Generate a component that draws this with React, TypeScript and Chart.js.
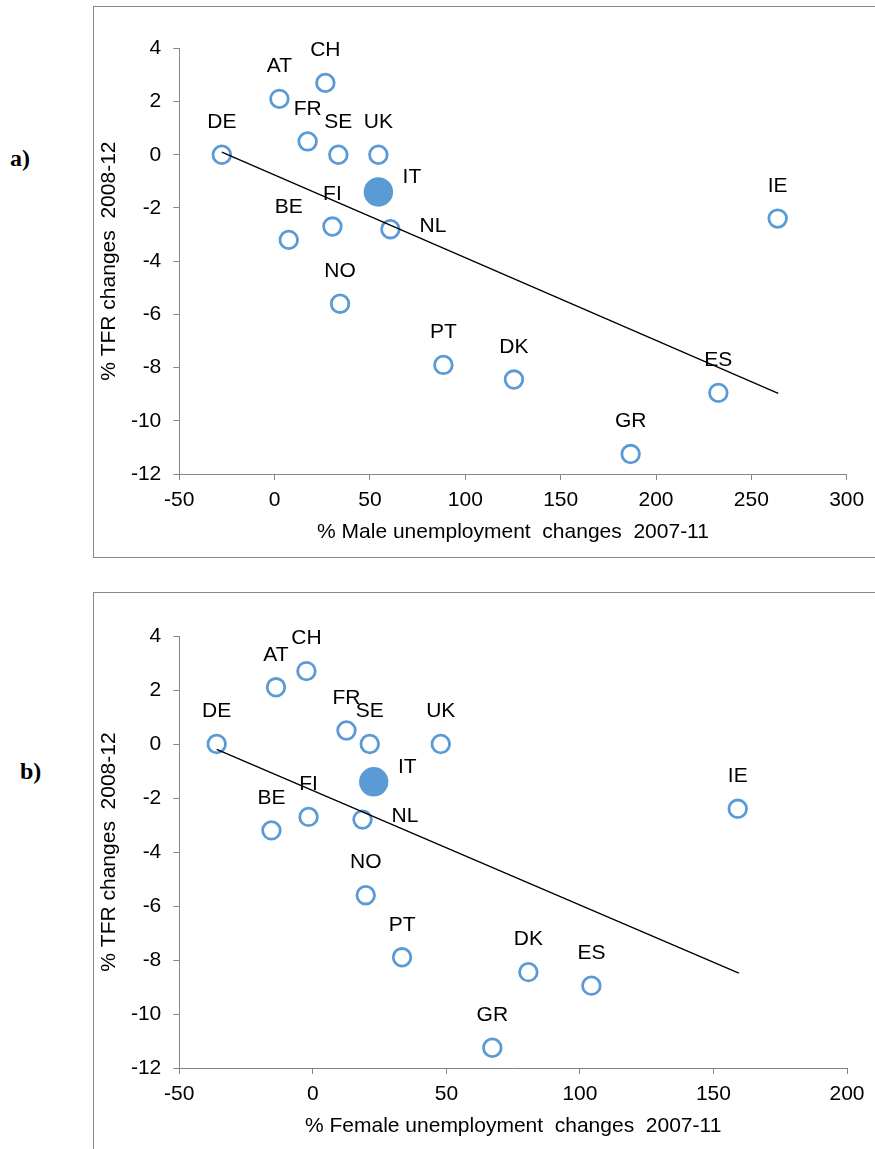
import React, { useEffect, useRef } from "react";
import { Chart, registerables } from "chart.js";

Chart.register(...registerables);

// ---- data ----
const countries = ["DE", "AT", "CH", "FR", "SE", "UK", "IT", "FI", "NL", "BE", "NO", "PT", "DK", "ES", "GR", "IE"];
const tfrChange = [0, 2.1, 2.7, 0.5, 0, 0, -1.4, -2.7, -2.8, -3.2, -5.6, -7.9, -8.45, -8.95, -11.25, -2.4];
const maleUnempChange = [-27.7, 2.5, 26.6, 17.3, 33.4, 54.4, 54.4, 30.3, 60.7, 7.4, 34.3, 88.5, 125.5, 232.7, 186.7, 263.8];
const femaleUnempChange = [-36.0, -13.8, -2.4, 12.6, 21.3, 47.9, 22.8, -1.6, 18.6, -15.5, 19.8, 33.4, 80.7, 104.3, 67.2, 159.1];
const maleTrendX = [-27.7, 264.1];
const maleTrendY = [0.1, -8.97];
const femaleTrendX = [-36.0, 159.5];
const femaleTrendY = [-0.2, -8.49];
const yAxisMin = -12;
const yAxisMax = 4;
const yAxisStep = 2;
const maleXMin = -50;
const maleXMax = 300;
const femaleXMin = -50;
const femaleXMax = 200;
const xAxisStep = 50;
const highlighted = "IT";

// ---- styles ----
const BLUE = "#5B9BD5";
const AXIS = "#868686";
const FONT_FAMILY = '"Liberation Sans", Arial, sans-serif';
const labelOffsets: Record<string, [number, number]> = {
  IT: [33.5, -14.5],
  NL: [42.5, -3.5],
};
const defaultOffset: [number, number] = [0, -32.5];

const labelPlugin = {
  id: "countryLabels",
  afterDatasetDraw(chart: any, args: any) {
    if (args.meta.type !== "scatter" || chart.data.datasets[args.index].label !== "points") return;
    const ctx = chart.ctx;
    ctx.save();
    ctx.font = `21px ${FONT_FAMILY}`;
    ctx.fillStyle = "#000";
    ctx.textAlign = "center";
    ctx.textBaseline = "middle";
    args.meta.data.forEach((el: any, i: number) => {
      const name = countries[i];
      const [dx, dy] = labelOffsets[name] ?? defaultOffset;
      ctx.fillText(name, el.x + dx, el.y + dy);
    });
    ctx.restore();
  },
};

function makeConfig(
  xs: number[],
  trendX: number[],
  trendY: number[],
  xMin: number,
  xMax: number,
  xTitle: string,
  padTop: number,
  padRight: number,
  yWidth: number,
  xHeight: number
): any {
  const font = { family: FONT_FAMILY, size: 21 };
  return {
    type: "scatter",
    data: {
      datasets: [
        {
          label: "points",
          order: 2,
          data: countries.map((_, i) => ({ x: xs[i], y: tfrChange[i] })),
          showLine: false,
          pointRadius: (c: any) => (countries[c.dataIndex] === highlighted ? 14.7 : 8.8),
          pointHoverRadius: (c: any) => (countries[c.dataIndex] === highlighted ? 14.7 : 8.8),
          pointBackgroundColor: (c: any) => (countries[c.dataIndex] === highlighted ? BLUE : "#ffffff"),
          pointBorderColor: BLUE,
          pointBorderWidth: (c: any) => (countries[c.dataIndex] === highlighted ? 0 : 2.8),
        },
        {
          label: "trend",
          order: 1,
          data: trendX.map((x, i) => ({ x, y: trendY[i] })),
          showLine: true,
          borderColor: "#000",
          borderWidth: 1.4,
          pointRadius: 0,
          pointHoverRadius: 0,
          fill: false,
        },
      ],
    },
    options: {
      animation: false,
      responsive: true,
      maintainAspectRatio: false,
      events: [],
      layout: { padding: { top: padTop, right: padRight, left: 0, bottom: 0 } },
      plugins: { legend: { display: false }, tooltip: { enabled: false } },
      scales: {
        x: {
          type: "linear",
          min: xMin,
          max: xMax,
          ticks: { stepSize: xAxisStep, font, color: "#000", padding: 8, maxRotation: 0 },
          grid: { drawOnChartArea: false, drawTicks: true, tickLength: 6, color: AXIS },
          border: { color: AXIS, width: 1 },
          title: { display: true, text: xTitle, font, color: "#000", padding: { top: 0, bottom: 12 } },
          afterFit: (s: any) => {
            s.height = xHeight;
          },
        },
        y: {
          type: "linear",
          min: yAxisMin,
          max: yAxisMax,
          ticks: { stepSize: yAxisStep, font, color: "#000", padding: 12 },
          grid: { drawOnChartArea: false, drawTicks: true, tickLength: 6, color: AXIS },
          border: { color: AXIS, width: 1 },
          title: { display: true, text: "% TFR changes  2008-12", font, color: "#000", padding: { top: 3, bottom: 0 } },
          afterFit: (s: any) => {
            s.width = yWidth;
          },
        },
      },
    },
    plugins: [labelPlugin],
  };
}

export default function App() {
  const refA = useRef<HTMLCanvasElement | null>(null);
  const refB = useRef<HTMLCanvasElement | null>(null);

  useEffect(() => {
    const a = new Chart(
      refA.current as HTMLCanvasElement,
      makeConfig(maleUnempChange, maleTrendX, maleTrendY, maleXMin, maleXMax, "% Male unemployment  changes  2007-11", 41.3, 35.3, 85.3, 83)
    );
    const b = new Chart(
      refB.current as HTMLCanvasElement,
      makeConfig(femaleUnempChange, femaleTrendX, femaleTrendY, femaleXMin, femaleXMax, "% Female unemployment  changes  2007-11", 43, 35, 85.3, 83)
    );
    return () => {
      a.destroy();
      b.destroy();
    };
  }, []);

  const panelLabel: React.CSSProperties = {
    position: "absolute",
    fontFamily: '"Liberation Serif", "Times New Roman", serif',
    fontWeight: "bold",
    fontSize: 24,
    lineHeight: "24px",
    color: "#000",
  };

  return (
    <div style={{ position: "absolute", left: 0, top: 0, width: 875, height: 1149, overflow: "hidden", background: "#fff" }}>
      <div style={{ ...panelLabel, left: 10, top: 146 }}>a)</div>
      <div style={{ ...panelLabel, left: 20, top: 759 }}>b)</div>
      <div
        style={{
          position: "absolute",
          left: 93,
          top: 6,
          width: 790,
          height: 552,
          border: `1px solid #898989`,
          boxSizing: "border-box",
        }}
      >
        <div style={{ position: "relative", width: 788, height: 550 }}>
          <canvas ref={refA} />
        </div>
      </div>
      <div
        style={{
          position: "absolute",
          left: 93,
          top: 592,
          width: 790,
          height: 560,
          border: `1px solid #898989`,
          boxSizing: "border-box",
        }}
      >
        <div style={{ position: "relative", width: 788, height: 558 }}>
          <canvas ref={refB} />
        </div>
      </div>
    </div>
  );
}
